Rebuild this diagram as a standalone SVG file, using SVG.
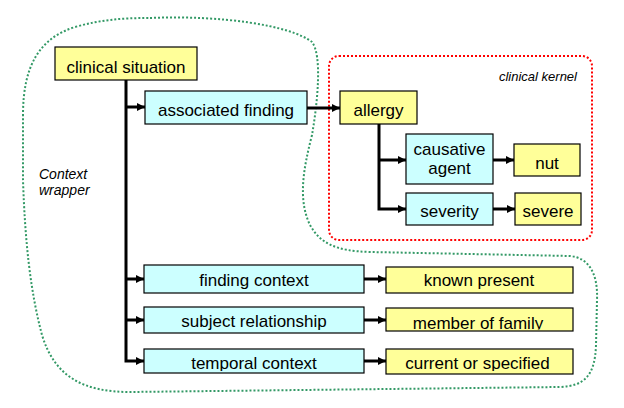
<svg xmlns="http://www.w3.org/2000/svg" width="624" height="408" viewBox="0 0 624 408">
<style>
.y{fill:#FFFF99;stroke:#000;stroke-width:1.2}
.c{fill:#CCFFFF;stroke:#000;stroke-width:1.2}
.t{font-family:"Liberation Sans",Arial,sans-serif;font-size:17px;fill:#000;text-anchor:middle}
.i{font-family:"Liberation Sans",Arial,sans-serif;font-style:italic;fill:#000}
.ar{fill:none;stroke:#000;stroke-width:3;marker-end:url(#ah)}
</style>
<defs>
<marker id="ah" markerUnits="userSpaceOnUse" markerWidth="10" markerHeight="10" refX="9" refY="5" orient="auto">
<path d="M1,1 L9,5 L1,9 z" fill="#000"/>
</marker>
<clipPath id="cp1"><rect x="386" y="308" width="187" height="21.5"/></clipPath>
<clipPath id="cp2"><rect x="144" y="349" width="220" height="22"/></clipPath>
<clipPath id="cp3"><rect x="386" y="349" width="187" height="22"/></clipPath>
</defs>
<rect width="624" height="408" fill="#fff"/>
<g id="context-wrapper">
<path d="M150,18 C220,15 290,25 312,42 C322,55 318,100 312,135 C303,170 298,200 310,225 C320,243 335,251 370,252 L570,256 C590,258 598,275 597,300 L596,345 C595,375 585,386 560,387 L130,392 C85,392 55,378 42,335 C30,290 25,240 23,180 L23,115 C23,65 40,38 75,27 C100,20 120,18 150,18 Z" fill="none" stroke="#339966" stroke-width="2" stroke-dasharray="2 2"/>
<text class="i" x="39" y="179" font-size="14">Context</text>
<text class="i" x="39" y="195" font-size="14">wrapper</text>
</g>
<g id="clinical-kernel">
<rect x="329" y="56" width="263" height="184" rx="10" fill="none" stroke="#FF0000" stroke-width="2" stroke-dasharray="2 2"/>
<text class="i" x="577" y="81" font-size="13" text-anchor="end">clinical kernel</text>
</g>
<g id="connectors">
<path class="ar" d="M126,80 V361 H144"/>
<path class="ar" d="M126,107 H145"/>
<path class="ar" d="M126,279 H144"/>
<path class="ar" d="M126,320 H144"/>
<path class="ar" d="M307,108 H340"/>
<path class="ar" d="M379,124 V209 H406"/>
<path class="ar" d="M379,160 H406"/>
<path class="ar" d="M493,160 H514"/>
<path class="ar" d="M493,209 H515"/>
<path class="ar" d="M364,279 H386"/>
<path class="ar" d="M364,320 H386"/>
<path class="ar" d="M364,361 H386"/>
</g>
<g id="clinical-situation"><rect class="y" x="55" y="47" width="142" height="33"/><text class="t" x="126" y="73">clinical situation</text></g>
<g id="associated-finding"><rect class="c" x="145" y="91" width="162" height="33"/><text class="t" x="226" y="116">associated finding</text></g>
<g id="allergy"><rect class="y" x="340" y="91" width="77" height="33"/><text class="t" x="378.5" y="116">allergy</text></g>
<g id="causative-agent"><rect class="c" x="406" y="134" width="87" height="50"/><text class="t" x="449.5" y="155">causative</text><text class="t" x="449.5" y="174">agent</text></g>
<g id="nut"><rect class="y" x="514" y="144" width="66" height="32"/><text class="t" x="547" y="169">nut</text></g>
<g id="severity"><rect class="c" x="406" y="193" width="87" height="32"/><text class="t" x="449.5" y="217">severity</text></g>
<g id="severe"><rect class="y" x="515" y="193" width="66" height="32"/><text class="t" x="548" y="217">severe</text></g>
<g id="finding-context"><rect class="c" x="144" y="265" width="220" height="28"/><text class="t" x="254" y="286">finding context</text></g>
<g id="known-present"><rect class="y" x="386" y="267" width="187" height="26"/><text class="t" x="479" y="286">known present</text></g>
<g id="subject-relationship"><rect class="c" x="144" y="307" width="220" height="26"/><text class="t" x="254" y="327">subject relationship</text></g>
<g id="member-of-family"><rect class="y" x="386" y="308" width="187" height="23"/><text class="t" x="478" y="328.5" clip-path="url(#cp1)">member of family</text></g>
<g id="temporal-context"><rect class="c" x="144" y="349" width="220" height="24"/><text class="t" x="254" y="368.5" clip-path="url(#cp2)">temporal context</text></g>
<g id="current-or-specified"><rect class="y" x="386" y="349" width="187" height="25"/><text class="t" x="477.5" y="369" clip-path="url(#cp3)">current or specified</text></g>
</svg>
